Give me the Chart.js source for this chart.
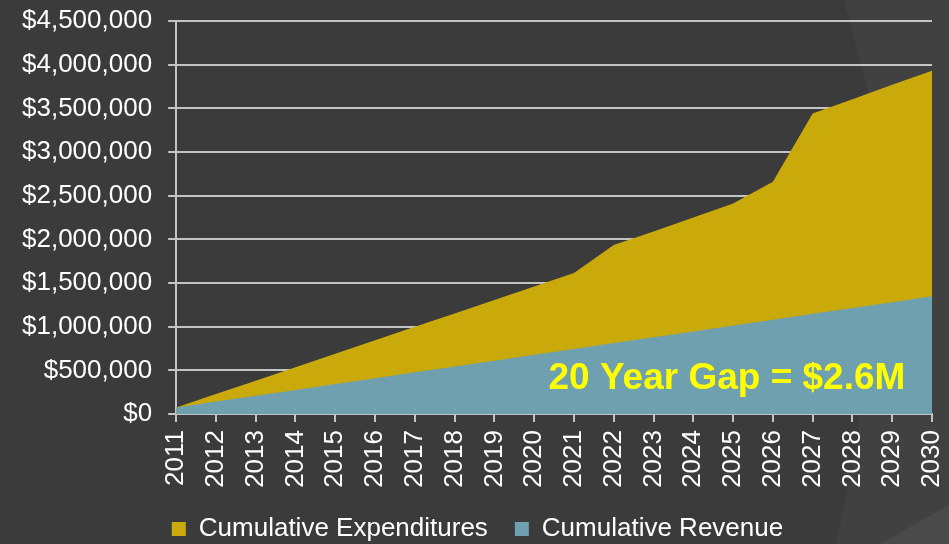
<!DOCTYPE html>
<html lang="en">
<head>
    <meta charset="UTF-8">
    <title>20 Year Gap</title>
    <script src="https://cdn.jsdelivr.net/npm/chart.js"></script>
    <style>
        html, body { margin: 0; padding: 0; background: #3b3b3b; }
    </style>
</head>
<body>
    <canvas id="gapChart" width="949" height="544"></canvas>

    <script>
        // data
        const years = ['2011', '2012', '2013', '2014', '2015', '2016', '2017', '2018', '2019', '2020',
                       '2021', '2022', '2023', '2024', '2025', '2026', '2027', '2028', '2029', '2030'];
        const expenditures = [75000, 228000, 382000, 536000, 690000, 844000, 998000, 1152000, 1306000, 1460000,
                              1615000, 1935000, 2090000, 2250000, 2410000, 2660000, 3440000, 3605000, 3770000, 3930000];
        const revenue = [75000, 142000, 209000, 276000, 343000, 410000, 477000, 544000, 611000, 678000,
                         745000, 812000, 879000, 946000, 1013000, 1080000, 1147000, 1214000, 1281000, 1348000];
        const yTicks = { min: 0, max: 4500000, step: 500000 };
        const gapLabel = '20 Year Gap = $2.6M';

        const font = 'Liberation Sans, Arial, sans-serif';
        const lineGrey = '#c4c4c4';

        // slide background with the light band on the right
        const background = {
            id: 'background',
            beforeDraw(chart) {
                const ctx = chart.ctx;
                const w = chart.width, h = chart.height;
                ctx.save();
                ctx.fillStyle = '#3b3b3b';
                ctx.fillRect(0, 0, w, h);
                ctx.fillStyle = '#414141';
                ctx.beginPath();
                ctx.moveTo(844, 0);
                ctx.lineTo(w, 0);
                ctx.lineTo(w, h);
                ctx.lineTo(836, h);
                ctx.lineTo(858, 440);
                ctx.lineTo(870, 100);
                ctx.closePath();
                ctx.fill();
                ctx.fillStyle = '#4a4a4a';
                ctx.beginPath();
                ctx.moveTo(880, h);
                ctx.lineTo(w, 505);
                ctx.lineTo(w, h);
                ctx.closePath();
                ctx.fill();
                ctx.restore();
            }
        };

        // yellow note inside the revenue area
        const gapNote = {
            id: 'gapNote',
            afterDatasetsDraw(chart) {
                const ctx = chart.ctx;
                const x = chart.scales.x.getPixelForValue(9.36);
                const y = chart.scales.y.getPixelForValue(286000);
                ctx.save();
                ctx.font = 'bold 37px ' + font;
                ctx.fillStyle = '#ffff00';
                ctx.textAlign = 'left';
                ctx.textBaseline = 'alphabetic';
                ctx.fillText(gapLabel, x, y);
                ctx.restore();
            }
        };

        const ctx = document.getElementById('gapChart').getContext('2d');
        new Chart(ctx, {
            type: 'line',
            data: {
                labels: years,
                datasets: [{
                    label: 'Cumulative Expenditures',
                    data: expenditures,
                    backgroundColor: '#c9aa0a',
                    borderWidth: 0,
                    pointRadius: 0,
                    fill: 'origin',
                    order: 2
                }, {
                    label: 'Cumulative Revenue',
                    data: revenue,
                    backgroundColor: '#6ea0af',
                    borderWidth: 0,
                    pointRadius: 0,
                    fill: 'origin',
                    order: 1
                }]
            },
            options: {
                responsive: false,
                animation: false,
                devicePixelRatio: 1,
                layout: { padding: { left: 6, right: 0, top: 0, bottom: -8 } },
                plugins: {
                    tooltip: { enabled: false },
                    legend: {
                        position: 'bottom',
                        labels: {
                            color: '#ffffff',
                            font: { family: font, size: 26 },
                            boxWidth: 14,
                            boxHeight: 14,
                            padding: 27,
                            sort: (a, b) => a.datasetIndex - b.datasetIndex
                        }
                    }
                },
                scales: {
                    x: {
                        grid: { drawOnChartArea: false, color: lineGrey, lineWidth: 2, tickLength: 8 },
                        border: { color: lineGrey, width: 2 },
                        ticks: {
                            color: '#ffffff',
                            font: { family: font, size: 26 },
                            minRotation: 90,
                            maxRotation: 90,
                            autoSkip: false,
                            padding: 8
                        },
                        afterFit(scale) {
                            scale.height = 75;
                            scale.paddingRight = 17;
                        }
                    },
                    y: {
                        min: yTicks.min,
                        max: yTicks.max,
                        grid: { color: lineGrey, lineWidth: 2, tickLength: 8 },
                        border: { color: lineGrey, width: 2 },
                        ticks: {
                            stepSize: yTicks.step,
                            color: '#ffffff',
                            font: { family: font, size: 26 },
                            padding: 16,
                            callback: v => '$' + v.toLocaleString('en-US')
                        },
                        afterFit(scale) {
                            scale.paddingTop = 21;
                        }
                    }
                }
            },
            plugins: [background, gapNote]
        });
    </script>
</body>
</html>
